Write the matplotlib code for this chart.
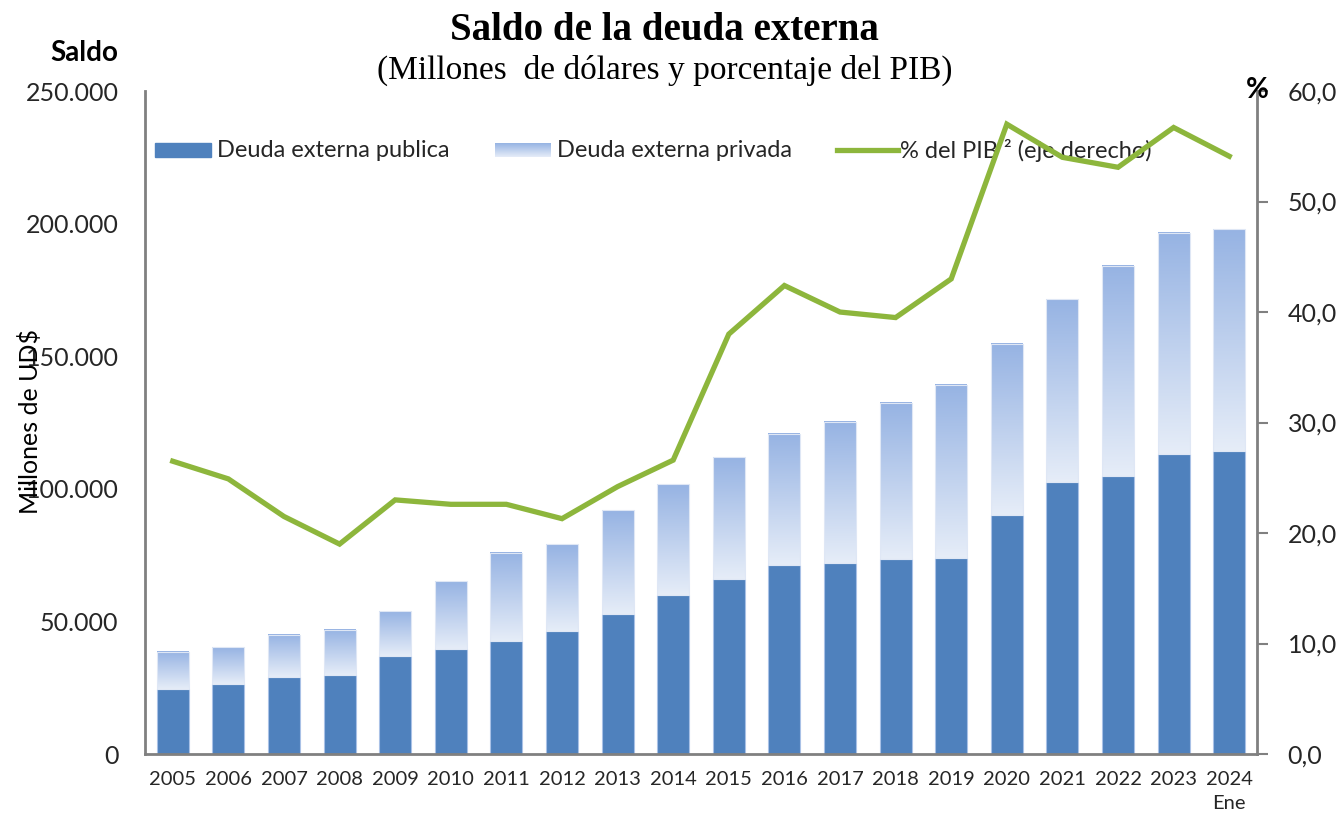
import numpy as np
import matplotlib
matplotlib.use('Agg')
import matplotlib.pyplot as plt
from matplotlib.colors import LinearSegmentedColormap

# ── Data ──
years = ['2005', '2006', '2007', '2008', '2009', '2010', '2011', '2012', '2013', '2014',
         '2015', '2016', '2017', '2018', '2019', '2020', '2021', '2022', '2023', '2024\nEne']
deuda_total = [38500, 40300, 44900, 46800, 53900, 65200, 75800, 79200, 92000, 101800,
               112000, 120700, 125200, 132400, 139200, 154600, 171600, 184000, 196500, 198000]
deuda_publica = [24500, 26400, 29000, 29800, 37000, 39600, 42600, 46400, 52800, 60000,
                 66000, 71300, 72000, 73500, 73900, 90100, 102600, 104800, 113100, 114300]
pct_pib = [26.5, 24.9, 21.5, 19.0, 23.0, 22.6, 22.6, 21.3, 24.2, 26.6,
           38.0, 42.4, 40.0, 39.5, 43.0, 57.0, 54.0, 53.1, 56.7, 54.1]
deuda_privada = [t - p for t, p in zip(deuda_total, deuda_publica)]

PUB = '#4f81bd'
GREEN = '#8db63c'
SPINE = '#808080'
TXT = '#262626'
grad_cmap = LinearSegmentedColormap.from_list('priv', ['#e6edf8', '#96b3e3'])
grad = np.linspace(0, 1, 256).reshape(-1, 1)

sans = ['Lato', 'DejaVu Sans']
serif = ['Liberation Serif', 'DejaVu Serif']

fig = plt.figure(figsize=(13.42, 8.15), dpi=100)
ax = fig.add_axes([0.108, 0.0748, 0.8287, 0.8135])
ax2 = ax.twinx()

x = np.arange(len(years))
w = 0.575

# ── Bars ──
ax.bar(x, deuda_publica, width=w, color=PUB, edgecolor='#a9c1e6', linewidth=0.8, zorder=2)
for xi, pub, priv in zip(x, deuda_publica, deuda_privada):
    ax.imshow(grad, extent=[xi - w / 2, xi + w / 2, pub, pub + priv], origin='lower',
              aspect='auto', cmap=grad_cmap, zorder=2, interpolation='bilinear')
ax.bar(x, deuda_privada, bottom=deuda_publica, width=w, facecolor='none',
       edgecolor='#dfe7f5', linewidth=0.8, zorder=3)

ax.set_xlim(-0.5, len(years) - 0.5)
ax.set_ylim(0, 250000)
ax.set_yticks(range(0, 250001, 50000))
ax.set_yticklabels(['0', '50.000', '100.000', '150.000', '200.000', '250.000'])
ax.set_xticks(x)
ax.set_xticklabels(years, linespacing=1.5)
ax.tick_params(axis='y', length=0, pad=19, labelsize=18, labelcolor=TXT)
ax.tick_params(axis='x', length=0, pad=12, labelsize=14.5, labelcolor=TXT)
for lab in ax.get_xticklabels() + ax.get_yticklabels():
    lab.set_family(sans)

for s in ['top', 'right']:
    ax.spines[s].set_visible(False)
for s in ['left', 'bottom']:
    ax.spines[s].set_color(SPINE)
    ax.spines[s].set_linewidth(2)

# ── Line on right axis ──
ax2.plot(x, pct_pib, color=GREEN, linewidth=3.8, solid_joinstyle='miter', zorder=5)
ax2.set_ylim(0, 60)
ax2.set_yticks(range(0, 61, 10))
ax2.set_yticklabels([f'{v},0' for v in range(0, 61, 10)])
ax2.tick_params(axis='y', length=8, width=1.5, color=SPINE, pad=14,
                labelsize=18, labelcolor=TXT)
for lab in ax2.get_yticklabels():
    lab.set_family(sans)
for s in ['top', 'left', 'bottom']:
    ax2.spines[s].set_visible(False)
ax2.spines['right'].set_color(SPINE)
ax2.spines['right'].set_linewidth(2)

# ── Legend (manual) ──
ly = 0.911
lh = 0.021
ax.add_patch(plt.Rectangle((0.009, ly - lh / 2), 0.050, lh, transform=ax.transAxes,
                           color=PUB, clip_on=False, zorder=4))
ax.text(0.0645, ly, 'Deuda externa publica', transform=ax.transAxes, va='center',
        ha='left', fontsize=17, family=sans, color=TXT)
ax.imshow(grad, extent=[0.315, 0.365, ly - lh / 2, ly + lh / 2], origin='lower',
          transform=ax.transAxes, aspect='auto', cmap=grad_cmap, zorder=4, clip_on=False)
ax.text(0.3705, ly, 'Deuda externa privada', transform=ax.transAxes, va='center',
        ha='left', fontsize=17, family=sans, color=TXT)
ax.plot([0.622, 0.677], [ly, ly], transform=ax.transAxes, color=GREEN, linewidth=3.8,
        clip_on=False, zorder=4)
ax.text(0.679, ly, '% del PIB ² (eje derecho)', transform=ax.transAxes, va='center',
        ha='left', fontsize=17, family=sans, color=TXT)
ax.set_xlim(-0.5, len(years) - 0.5)
ax.set_ylim(0, 250000)

# ── Titles and axis labels ──
fig.text(0.495, 0.963, 'Saldo de la deuda externa', ha='center', va='center',
         fontsize=28, fontweight='bold', family=serif)
fig.text(0.495, 0.914, '(Millones  de dólares y porcentaje del PIB)', ha='center',
         va='center', fontsize=24, family=serif)
fig.text(0.088, 0.935, 'Saldo', ha='right', va='center', fontsize=20,
         fontweight='bold', family=sans)
fig.text(0.9367, 0.889, '%', ha='center', va='center', fontsize=20,
         fontweight='bold', family=sans)
fig.text(0.022, 0.483, 'Millones de UD$', rotation=90, ha='center', va='center',
         fontsize=18, family=sans)

fig.savefig('out.png', dpi=100)
